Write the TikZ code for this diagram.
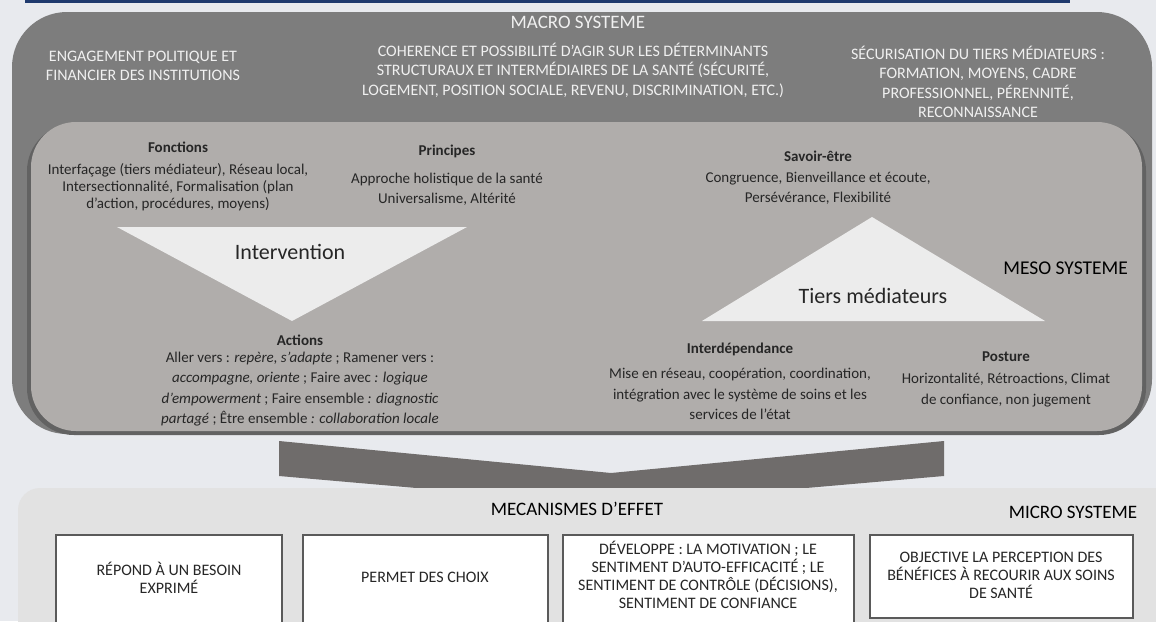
\documentclass[tikz,border=0pt]{standalone}
\usepackage{fontspec}
\setmainfont{Carlito}
\usepackage{tikz}
\usepackage{xcolor}
\definecolor{pagebg}{HTML}{E8EAEE}
\definecolor{navyline}{HTML}{1F3A6E}
\definecolor{macrogrey}{HTML}{7D7D7D}
\definecolor{shadowgrey}{HTML}{626262}
\definecolor{mesogrey}{HTML}{B0ADAB}
\definecolor{palegrey}{HTML}{ECECEC}
\definecolor{arrowgrey}{HTML}{6F6C6B}
\definecolor{microgrey}{HTML}{E2E2E2}
\definecolor{boxborder}{HTML}{5A5A5A}
\definecolor{darktext}{HTML}{262626}
\definecolor{macrotextcol}{HTML}{F0F0F0}
\tikzstyle{macroshading}=[fill=macrogrey]
\tikzstyle{mesoshading}=[fill=mesogrey]
\tikzstyle{paleshading}=[fill=palegrey]
\tikzstyle{microshading}=[fill=microgrey]
\tikzstyle{macrotext}=[text=macrotextcol, align=center, inner sep=0pt, font=\fontsize{16}{19.5}\selectfont]
\tikzstyle{mesohead}=[text=darktext, inner sep=0pt, font=\bfseries\fontsize{15}{18}\selectfont]
\tikzstyle{mesotext}=[text=darktext, align=center, inner sep=0pt, font=\fontsize{15}{20.5}\selectfont]
\tikzstyle{systemtitle}=[inner sep=0pt, font=\fontsize{19}{22}\selectfont]
\tikzstyle{mecabox}=[draw=boxborder, fill=white, line width=1.2pt]
\tikzstyle{mecatext}=[text=darktext, align=center, inner sep=0pt, font=\fontsize{16}{18}\selectfont]

\begin{document}
\begin{tikzpicture}[x=1pt,y=-1pt]
		\useasboundingbox (0,0) rectangle (1156,621);
		\fill[pagebg] (0,0) rectangle (1156,621);
		\draw[navyline, line width=3pt] (25,1.5) -- (1070,1.5);
		% macro and meso
		\fill[macroshading, rounded corners=55pt] (12,12) rectangle (1152,434);
		\fill[fill=shadowgrey, rounded corners=47pt] (27,124) rectangle (1146,435);
		\fill[mesoshading, rounded corners=45pt] (31,122) rectangle (1142,431);
		\node[systemtitle, text=macrotextcol] (macrotitle) at (578,22) {MACRO SYSTEME};
		\node[macrotext] (engagement) at (143,66) {ENGAGEMENT POLITIQUE ET\\FINANCIER DES INSTITUTIONS};
		\node[macrotext] (coherence) at (573,70) {COHERENCE ET POSSIBILITÉ D’AGIR SUR LES DÉTERMINANTS\\STRUCTURAUX ET INTERMÉDIAIRES DE LA SANTÉ (SÉCURITÉ,\\LOGEMENT, POSITION SOCIALE, REVENU, DISCRIMINATION, ETC.)};
		\node[macrotext] (securisation) at (978,82) {SÉCURISATION DU TIERS MÉDIATEURS :\\FORMATION, MOYENS, CADRE\\PROFESSIONNEL, PÉRENNITÉ,\\RECONNAISSANCE};
		\fill[paleshading] (117,227) -- (467,227) -- (292,321) -- cycle;
		\fill[paleshading] (872,217) -- (1045,321) -- (702,321) -- cycle;
		\node[inner sep=0pt, text=darktext, font=\fontsize{22}{26}\selectfont] (intervention) at (290,252) {Intervention};
		\node[inner sep=0pt, text=darktext, font=\fontsize{22}{26}\selectfont] (tiers) at (873,296) {Tiers médiateurs};
		\node[systemtitle, text=black, font=\fontsize{19.5}{23}\selectfont, anchor=east] (mesotitle) at (1128,268) {MESO SYSTEME};
		\node[mesohead] (fonctions) at (178,147) {Fonctions};
		\node[mesotext, font=\fontsize{15}{17}\selectfont] (fonctionstext) at (178,187) {Interfaçage (tiers médiateur), Réseau local,\\Intersectionnalité, Formalisation (plan\\d’action, procédures, moyens)};
		\node[mesohead] (principes) at (447,151) {Principes};
		\node[mesotext] (principestext) at (447,189) {Approche holistique de la santé\\Universalisme, Altérité};
		\node[mesohead] (savoir) at (818,156) {Savoir-être};
		\node[mesotext] (savoirtext) at (818,188) {Congruence, Bienveillance et écoute,\\Persévérance, Flexibilité};
		\node[mesohead] (actions) at (300,340) {Actions};
		\node[mesotext] (actionstext) at (300,389) {Aller vers : \textit{repère, s’adapte} ; Ramener vers :\\\textit{accompagne, oriente} ; Faire avec \textit{: logique}\\\textit{d’empowerment} ; Faire ensemble \textit{: diagnostic}\\\textit{partagé} ; Être ensemble \textit{: collaboration locale}};
		\node[mesohead] (interdependance) at (740,349) {Interdépendance};
		\node[mesotext] (interdependancetext) at (740,394) {Mise en réseau, coopération, coordination,\\intégration avec le système de soins et les\\services de l’état};
		\node[mesohead] (posture) at (1006,357) {Posture};
		\node[mesotext] (posturetext) at (1006,390) {Horizontalité, Rétroactions, Climat\\de confiance, non jugement};
		% arrow down
		\fill[fill=arrowgrey] (279,441) -- (611,473) -- (944,441) -- (944,476) -- (611,505) -- (279,476) -- cycle;
		% micro
		\fill[microshading, rounded corners=22pt] (18,488) rectangle (1180,660);
		\node[systemtitle, text=black] (mecatitle) at (577,509) {MECANISMES D’EFFET};
		\node[systemtitle, text=black] (microtitle) at (1073,512) {MICRO SYSTEME};
		\draw[mecabox] (56,535) rectangle (282,640);
		\draw[mecabox] (303,535) rectangle (548,640);
		\draw[mecabox] (563,535) rectangle (854,640);
		\draw[mecabox] (870,535) rectangle (1133,618);
		\node[mecatext] (besoin) at (169,578) {RÉPOND À UN BESOIN\\EXPRIMÉ};
		\node[mecatext] (choix) at (425,577) {PERMET DES CHOIX};
		\node[mecatext] (motivation) at (708,575) {DÉVELOPPE : LA MOTIVATION ; LE\\SENTIMENT D’AUTO-EFFICACITÉ ; LE\\SENTIMENT DE CONTRÔLE (DÉCISIONS),\\SENTIMENT DE CONFIANCE};
		\node[mecatext] (perception) at (1001,575) {OBJECTIVE LA PERCEPTION DES\\BÉNÉFICES À RECOURIR AUX SOINS\\DE SANTÉ};
	\end{tikzpicture}
\end{document}
